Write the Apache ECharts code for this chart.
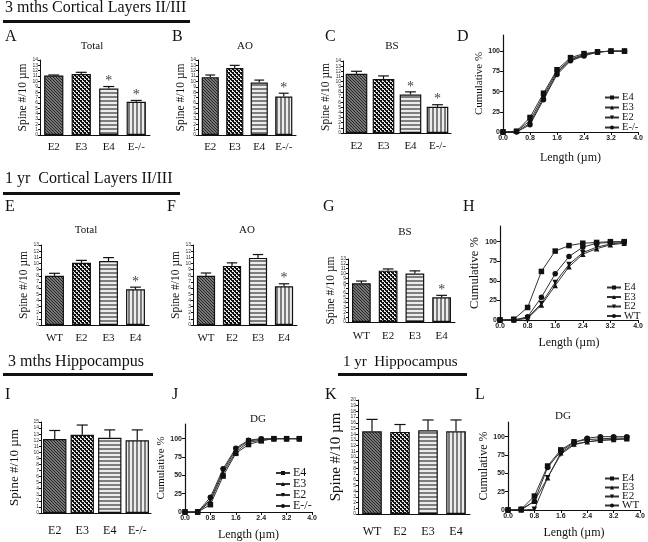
<!DOCTYPE html>
<html>
<head>
<meta charset="utf-8">
<script src="https://cdn.jsdelivr.net/npm/echarts@6/dist/echarts.min.js"></script>
<style>
html, body { margin: 0; padding: 0; background: #fff; }
#main { width: 648px; height: 542px; }
</style>
</head>
<body>
<div id="main"></div>
<script>
// ---- bar panels: mean spine density (spines / 10 um) ----
var cats3m = ['E2', 'E3', 'E4', 'E-/-'];
var cats1y = ['WT', 'E2', 'E3', 'E4'];

// A-C : 3 mths cortical layers II/III
var totalMean3m = [11.1, 11.4, 8.7, 6.2];
var totalErr3m = [0.1, 0.3, 0.35, 0.25];
var totalStar3m = [0, 0, 1, 1];
var aoMean3m = [10.8, 12.5, 9.8, 7.2];
var aoErr3m = [0.4, 0.5, 0.45, 0.6];
var aoStar3m = [0, 0, 0, 1];
var bsMean3m = [11.5, 10.5, 7.5, 5.1];
var bsErr3m = [0.5, 0.6, 0.5, 0.4];
var bsStar3m = [0, 0, 1, 1];

// E-G : 1 yr cortical layers II/III
var totalMean1y = [8.0, 10.1, 10.4, 5.8];
var totalErr1y = [0.4, 0.4, 0.55, 0.35];
var aoMean1y = [8.0, 9.6, 10.9, 6.3];
var aoErr1y = [0.45, 0.5, 0.55, 0.4];
var bsMean1y = [8.0, 10.6, 10.0, 5.1];
var bsErr1y = [0.45, 0.35, 0.55, 0.4];
var star1y = [0, 0, 0, 1];

// I, K : hippocampus DG
var dgMean3m = [12.2, 12.9, 12.4, 12.0];
var dgErr3m = [1.4, 1.6, 1.3, 1.7];
var dgMean1y = [14.5, 14.4, 14.7, 14.5];
var dgErr1y = [2.1, 1.3, 1.8, 2.0];
var noStar = [0, 0, 0, 0];

// ---- cumulative spine length (%) ----
var lengthBins = [0, 0.4, 0.8, 1.2, 1.6, 2.0, 2.4, 2.8, 3.2, 3.6];
var cumTicks = [0, 25, 50, 75, 100];

// D : 3 mths cortex
var cumD_E4 = [0, 1, 18, 48, 77, 92, 97, 99, 100, 100];
var cumD_E3 = [0, 1, 14, 45, 75, 90, 96, 99, 100, 100];
var cumD_E2 = [0, 0, 11, 42, 73, 89, 95, 99, 100, 100];
var cumD_KO = [0, 0, 9, 40, 71, 88, 94, 99, 100, 100];
// H : 1 yr cortex
var cumH_E4 = [0, 1, 16, 62, 88, 95, 98, 99, 100, 100];
var cumH_E3 = [0, 0, 2, 19, 44, 68, 84, 91, 96, 98];
var cumH_E2 = [0, 0, 3, 21, 48, 71, 86, 93, 97, 99];
var cumH_WT = [0, 0, 4, 29, 59, 81, 93, 98, 99, 100];
// J : 3 mths DG
var cumJ_E4 = [0, 0, 10, 49, 80, 92, 97, 100, 100, 100];
var cumJ_E3 = [0, 0, 14, 53, 82, 95, 98, 100, 100, 100];
var cumJ_E2 = [0, 0, 17, 56, 85, 97, 99, 100, 100, 100];
var cumJ_KO = [0, 0, 20, 59, 87, 98, 100, 100, 100, 100];
// L : 1 yr DG
var cumL_E4 = [0, 1, 19, 60, 82, 93, 96, 97, 98, 98];
var cumL_E3 = [0, 0, 12, 44, 78, 90, 93, 95, 96, 97];
var cumL_E2 = [0, 0, 1, 44, 76, 89, 93, 95, 96, 97];
var cumL_WT = [0, 1, 12, 58, 80, 92, 98, 100, 100, 100];

var SERIF = 'Liberation Serif';
var SANS = 'Liberation Sans';

// fill patterns, one per bar position
function makePattern(kind) {
	var c = document.createElement('canvas');
	var ctx = c.getContext('2d');
	var x;
	if (kind == 'hatch') {
		c.width = 3; c.height = 3;
		ctx.fillStyle = '#767676'; ctx.fillRect(0, 0, 3, 3);
		ctx.fillStyle = '#262626';
		for (x = 0; x < 3; x++) ctx.fillRect(x, x, 1, 1);
	} else if (kind == 'check') {
		c.width = 4; c.height = 4;
		ctx.fillStyle = '#e8e8e8'; ctx.fillRect(0, 0, 4, 4);
		ctx.fillStyle = '#111';
		ctx.fillRect(0, 0, 2, 2); ctx.fillRect(2, 2, 2, 2);
		ctx.fillRect(1, 2, 1, 1); ctx.fillRect(3, 0, 1, 1);
	} else if (kind == 'hstripe') {
		c.width = 1; c.height = 4;
		ctx.fillStyle = '#ececec'; ctx.fillRect(0, 0, 1, 4);
		ctx.fillStyle = '#7e7e7e'; ctx.fillRect(0, 0, 1, 2);
	} else {
		c.width = 4; c.height = 1;
		ctx.fillStyle = '#ececec'; ctx.fillRect(0, 0, 4, 1);
		ctx.fillStyle = '#7e7e7e'; ctx.fillRect(0, 0, 2, 1);
	}
	return c;
}
var patterns = [makePattern('hatch'), makePattern('check'), makePattern('hstripe'), makePattern('vstripe')];

var symbolFor = {
	'E4': ['rect', 0],
	'E3': ['triangle', 0],
	'E2': ['triangle', 180],
	'E-/-': ['circle', 0],
	'WT': ['circle', 0]
};

var grids = [], xAxes = [], yAxes = [], series = [], legends = [];

function addBarPanel(g, cats, means, errs, stars, ymax, opt) {
	var idx = grids.length;
	grids.push(g);
	xAxes.push({
		type: 'category', gridIndex: idx, data: cats,
		axisLine: { lineStyle: { color: '#111', width: 1 } },
		axisTick: { alignWithLabel: true, length: 3, lineStyle: { color: '#111' } },
		axisLabel: { interval: 0, fontFamily: SERIF, fontSize: opt.catSize, color: '#111', margin: opt.catMargin }
	});
	yAxes.push({
		type: 'value', gridIndex: idx, min: 0, max: ymax, interval: 1,
		splitLine: { show: false },
		axisLine: { show: true, lineStyle: { color: '#111', width: 1 } },
		axisTick: { show: true, length: 2, lineStyle: { color: '#111' } },
		axisLabel: { fontSize: 5, margin: 2, color: '#333', fontFamily: SANS },
		name: 'Spine #/10 µm', nameLocation: 'middle', nameRotate: 90, nameGap: opt.nameGap,
		nameTextStyle: { fontFamily: SERIF, fontSize: opt.nameSize, color: '#111' }
	});
	series.push({
		type: 'bar', xAxisIndex: idx, yAxisIndex: idx, barWidth: opt.barWidth,
		itemStyle: { borderColor: '#111', borderWidth: 1.2 },
		data: means.map(function (v, i) {
			return { value: v, itemStyle: { color: { image: patterns[i], repeat: 'repeat' } } };
		})
	});
	// error bars (upper half only) and significance stars
	series.push({
		type: 'custom', xAxisIndex: idx, yAxisIndex: idx, z: 5,
		data: means.map(function (v, i) { return [i, v, v + errs[i], stars[i]]; }),
		encode: { x: 0, y: [1, 2] },
		renderItem: function (params, api) {
			var base = api.coord([api.value(0), api.value(1)]);
			var top = api.coord([api.value(0), api.value(2)]);
			var w = api.size([1, 0])[0] * 0.2;
			var st = { stroke: '#111', lineWidth: 1.2 };
			var kids = [
				{ type: 'line', shape: { x1: base[0], y1: base[1], x2: top[0], y2: top[1] }, style: st },
				{ type: 'line', shape: { x1: top[0] - w, y1: top[1], x2: top[0] + w, y2: top[1] }, style: st }
			];
			if (api.value(3)) {
				kids.push({ type: 'text', x: top[0], y: top[1] + 2,
					style: { text: '*', textAlign: 'center', textVerticalAlign: 'bottom', font: '14px ' + SERIF, fill: '#444' } });
			}
			return { type: 'group', children: kids };
		}
	});
}

function addLinePanel(g, names, lists, legendPos, opt) {
	var idx = grids.length;
	grids.push(g);
	xAxes.push({
		type: 'value', gridIndex: idx, min: 0, max: 4, interval: 0.8,
		splitLine: { show: false },
		axisLine: { lineStyle: { color: '#111', width: 1.2 } },
		axisTick: { length: 3, lineStyle: { color: '#111' } },
		axisLabel: { fontFamily: SANS, fontWeight: 'bold', fontSize: 7, color: '#222', margin: 3,
			formatter: function (v) { return v.toFixed(1); } },
		name: 'Length (µm)', nameLocation: 'middle', nameGap: opt.xGap,
		nameTextStyle: { fontFamily: SERIF, fontSize: 12, color: '#111' }
	});
	yAxes.push({
		type: 'value', gridIndex: idx, min: 0, max: 120,
		splitLine: { show: false },
		axisLine: { show: true, lineStyle: { color: '#111', width: 1.2 } },
		axisTick: { show: true, length: 3, lineStyle: { color: '#111' }, customValues: cumTicks },
		axisLabel: { fontFamily: SANS, fontWeight: 'bold', fontSize: 7, color: '#222', margin: 3, customValues: cumTicks },
		name: 'Cumulative %', nameLocation: 'middle', nameRotate: 90, nameGap: opt.yGap,
		nameTextStyle: { fontFamily: SERIF, fontSize: opt.ySize, color: '#111' }
	});
	names.forEach(function (name, k) {
		var sym = symbolFor[name];
		series.push({
			type: 'line', name: name, xAxisIndex: idx, yAxisIndex: idx,
			data: lengthBins.map(function (x, i) { return [x, lists[k][i]]; }),
			symbol: sym[0], symbolRotate: sym[1], symbolSize: 5.5, showAllSymbol: true,
			itemStyle: { color: '#111' },
			lineStyle: { color: '#333', width: 1 }
		});
	});
	legends.push({
		data: names, orient: 'vertical', left: legendPos[0], top: legendPos[1],
		itemWidth: 14, itemHeight: 5, itemGap: opt.legGap, padding: 0, selectedMode: false,
		textStyle: { fontFamily: SERIF, fontSize: opt.legSize, color: '#111', padding: [0, 0, 0, -2] }
	});
}

// row 1
addBarPanel({ left: 40, top: 60, width: 110, height: 75 }, cats3m, totalMean3m, totalErr3m, totalStar3m, 14,
	{ barWidth: '70%', catSize: 11, catMargin: 7, nameGap: 10, nameSize: 11.5 });
addBarPanel({ left: 198, top: 60, width: 98, height: 75 }, cats3m, aoMean3m, aoErr3m, aoStar3m, 14,
	{ barWidth: '70%', catSize: 11, catMargin: 7, nameGap: 10, nameSize: 11.5 });
addBarPanel({ left: 343, top: 61, width: 108, height: 72 }, cats3m, bsMean3m, bsErr3m, bsStar3m, 14,
	{ barWidth: '80%', catSize: 11, catMargin: 8, nameGap: 8, nameSize: 11.5 });
addLinePanel({ left: 503, top: 35, width: 135, height: 97 }, ['E4', 'E3', 'E2', 'E-/-'],
	[cumD_E4, cumD_E3, cumD_E2, cumD_KO], [604, 92], { xGap: 20, yGap: 16, ySize: 11, legSize: 10.5, legGap: -1 });

// row 2
addBarPanel({ left: 41, top: 245, width: 108, height: 80 }, cats1y, totalMean1y, totalErr1y, star1y, 13,
	{ barWidth: '70%', catSize: 11, catMargin: 8, nameGap: 11, nameSize: 11.5 });
addBarPanel({ left: 193, top: 245, width: 104, height: 80 }, cats1y, aoMean1y, aoErr1y, star1y, 13,
	{ barWidth: '70%', catSize: 11, catMargin: 8, nameGap: 11, nameSize: 11.5 });
addBarPanel({ left: 348, top: 259, width: 107, height: 63 }, cats1y, bsMean1y, bsErr1y, star1y, 13,
	{ barWidth: '70%', catSize: 11, catMargin: 9, nameGap: 10, nameSize: 11.5 });
addLinePanel({ left: 500, top: 226, width: 138, height: 94 }, ['E4', 'E3', 'E2', 'WT'],
	[cumH_E4, cumH_E3, cumH_E2, cumH_WT], [606, 282], { xGap: 17, yGap: 17, ySize: 12.5, legSize: 10.5, legGap: -1.5 });

// row 3
addBarPanel({ left: 41, top: 422, width: 110, height: 91 }, cats3m, dgMean3m, dgErr3m, noStar, 15,
	{ barWidth: '85%', catSize: 12, catMargin: 12, nameGap: 20, nameSize: 13 });
addLinePanel({ left: 185, top: 424, width: 127, height: 90 }, ['E4', 'E3', 'E2', 'E-/-'],
	[cumJ_E4, cumJ_E3, cumJ_E2, cumJ_KO], [275, 467], { xGap: 17, yGap: 15, ySize: 11, legSize: 12, legGap: -1 });
addBarPanel({ left: 358, top: 400, width: 112, height: 114 }, cats1y, dgMean1y, dgErr1y, noStar, 20,
	{ barWidth: '70%', catSize: 12, catMargin: 12, nameGap: 14, nameSize: 15 });
addLinePanel({ left: 508, top: 422, width: 132, height: 88 }, ['E4', 'E3', 'E2', 'WT'],
	[cumL_E4, cumL_E3, cumL_E2, cumL_WT], [604, 473], { xGap: 17, yGap: 16, ySize: 12, legSize: 11, legGap: -2 });

function label(text, left, top, size, align) {
	return {
		text: text, left: left, top: top, padding: 0, textAlign: align || 'left',
		textStyle: { fontFamily: SERIF, fontWeight: 'normal', fontSize: size, color: '#111' }
	};
}

var titles = [
	label('3 mths Cortical Layers II/III', 5, 0, 16),
	label('1 yr  Cortical Layers II/III', 5, 171, 16),
	label('3 mths Hippocampus', 8, 354, 16),
	label('1 yr  Hippocampus', 343, 355, 15),
	label('A', 5, 29, 16), label('B', 172, 29, 16), label('C', 325, 29, 16), label('D', 457, 29, 16),
	label('E', 5, 199, 16), label('F', 167, 199, 16), label('G', 323, 199, 16), label('H', 463, 199, 16),
	label('I', 5, 387, 16), label('J', 172, 387, 16), label('K', 325, 387, 16), label('L', 475, 387, 16),
	label('Total', 92, 41, 11, 'center'), label('AO', 245, 41, 11, 'center'), label('BS', 392, 41, 11, 'center'),
	label('Total', 86, 225, 11, 'center'), label('AO', 247, 225, 11, 'center'), label('BS', 405, 227, 11, 'center'),
	label('DG', 258, 414, 11, 'center'), label('DG', 563, 411, 11, 'center')
];

// heading underlines
var rules = [[3, 20, 187], [3, 192, 177], [3, 373, 150], [338, 373, 129]];

var chart = echarts.init(document.getElementById('main'), null, { renderer: 'canvas' });
chart.setOption({
	animation: false,
	backgroundColor: '#fff',
	title: titles,
	grid: grids,
	xAxis: xAxes,
	yAxis: yAxes,
	legend: legends,
	series: series,
	graphic: rules.map(function (r) {
		return { type: 'rect', left: r[0], top: r[1], shape: { width: r[2], height: 3 }, style: { fill: '#111' } };
	})
});
</script>
</body>
</html>
